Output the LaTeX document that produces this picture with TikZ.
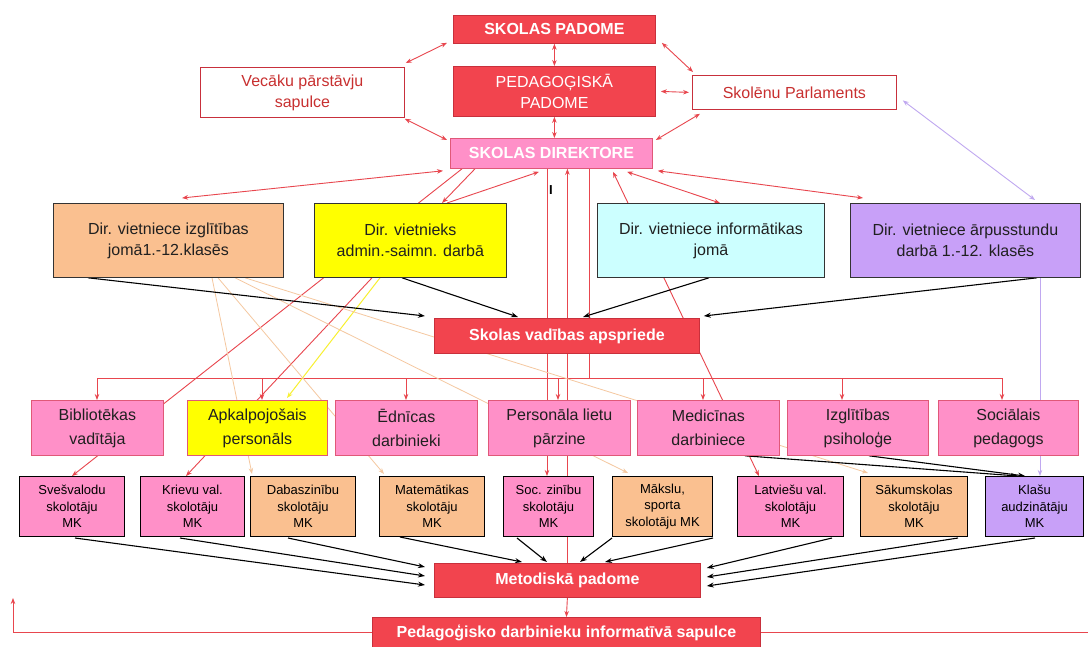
\documentclass[tikz,border=0pt]{standalone}
\usepackage{fontspec}
\setmainfont{Liberation Sans}
\usetikzlibrary{arrows.meta,calc}
\pgfdeclarelayer{bg}
\pgfsetlayers{bg,main}
\definecolor{rfill}{HTML}{F2444E}
\definecolor{rborder}{HTML}{C8303C}
\definecolor{pinkfill}{HTML}{FF90C8}
\definecolor{pinkborder}{HTML}{E05878}
\definecolor{peachfill}{HTML}{FAC090}
\definecolor{yelfill}{HTML}{FFFF00}
\definecolor{cyanfill}{HTML}{CCFFFF}
\definecolor{purpfill}{HTML}{C8A0F8}
\definecolor{rline}{HTML}{E8464E}
\definecolor{peachline}{HTML}{F5C8A0}
\definecolor{purpline}{HTML}{C0A8F0}
\definecolor{yelline}{HTML}{F8F030}
\definecolor{redtext}{HTML}{C83030}
\definecolor{darktext}{HTML}{202020}
\tikzset{
  base/.style={draw, inner sep=0pt, align=center, anchor=north west, line width=0.8pt},
  sz/.style 2 args={minimum width=#1pt, minimum height=#2pt},
  redbox/.style={base, fill=rfill, draw=rborder, text=white, font=\fontsize{16}{20}\selectfont\bfseries},
  redplainbox/.style={base, fill=rfill, draw=rborder, text=white, font=\fontsize{16}{21}\selectfont},
  whitebox/.style={base, fill=white, draw=rborder, text=redtext, font=\fontsize{16}{21}\selectfont},
  dirbox/.style={base, fill=pinkfill, draw=pinkborder, text=white, font=\fontsize{16}{20}\selectfont\bfseries},
  depbox/.style={base, draw=black!80, text=darktext, font=\fontsize{16}{21}\selectfont},
  rowbox/.style={base, fill=pinkfill, draw=pinkborder, text=darktext, font=\fontsize{16}{24}\selectfont},
  mkbox/.style={base, draw=black, line width=1pt, text=black, font=\fontsize{13}{16.5}\selectfont},
  rarr/.style={draw=rline, line width=0.9pt, -{Stealth[length=6pt,width=4.5pt,color=rline]}},
  rboth/.style={draw=rline, line width=0.9pt, {Stealth[length=6pt,width=4.5pt,color=rline]}-{Stealth[length=6pt,width=4.5pt,color=rline]}},
  rarrback/.style={draw=rline, line width=0.9pt, {Stealth[length=6pt,width=4.5pt,color=rline]}-},
  rplain/.style={draw=rline, line width=0.9pt},
  barr/.style={draw=black, line width=1.1pt, -{Stealth[length=7pt,width=5pt]}},
  parr/.style={draw=peachline, line width=0.8pt, -{Stealth[length=6pt,width=4.5pt,color=peachline]}},
  pboth/.style={draw=purpline, line width=0.9pt, {Stealth[length=6pt,width=4.5pt,color=purpline]}-{Stealth[length=6pt,width=4.5pt,color=purpline]}},
  purparr/.style={draw=purpline, line width=0.9pt, -{Stealth[length=6pt,width=4.5pt,color=purpline]}},
  yarr/.style={draw=yelline, line width=1pt, -{Stealth[length=6pt,width=4.5pt,color=yelline]}},
}
\begin{document}
\begin{tikzpicture}[x=1pt,y=-1pt]
\useasboundingbox (0,0) rectangle (1088,646);
% top
\node[redbox, sz={202}{28}] (sp) at (453,15) {SKOLAS PADOME};
\node[redplainbox, sz={202}{50}] (pp) at (453,66) {PEDAGOĢISKĀ\\PADOME};
\node[whitebox, sz={204}{50}] (vps) at (200,67) {Vecāku pārstāvju\\sapulce};
\node[whitebox, sz={204}{34}] (sk) at (692,75) {Skolēnu Parlaments};
\node[dirbox, sz={202}{30}] (dir) at (450,138) {SKOLAS DIREKTORE};
% deputies
\node[depbox, fill=peachfill, sz={230}{74}] (d1) at (53,203) {Dir. vietniece izglītības\\jomā1.-12.klasēs};
\node[depbox, fill=yelfill, sz={192}{74}] (d2) at (314,203) {Dir. vietnieks\\admin.-saimn. darbā};
\node[depbox, fill=cyanfill, sz={227}{74}] (d3) at (597,203) {Dir. vietniece informātikas\\jomā};
\node[depbox, fill=purpfill, sz={230}{74}] (d4) at (850,203) {Dir. vietniece ārpusstundu\\darbā 1.-12. klasēs};
\node[font=\fontsize{13}{13}\selectfont\bfseries] (cur) at (551,190) {I};
\node[redbox, sz={265}{35}] (sva) at (434,318) {Skolas vadības apspriede};
% row 2
\node[rowbox, sz={132}{55}] (r1) at (31,400) {Bibliotēkas\\vadītāja};
\node[rowbox, fill=yelfill, sz={140}{55}] (r2) at (187,400) {Apkalpojošais\\personāls};
\node[rowbox, sz={142}{55}] (r3) at (335,400) {Ēdnīcas\\darbinieki};
\node[rowbox, sz={142}{55}] (r4) at (488,400) {Personāla lietu\\pārzine};
\node[rowbox, sz={142}{55}] (r5) at (637,400) {Medicīnas\\darbiniece};
\node[rowbox, sz={141}{55}] (r6) at (787,400) {Izglītības\\psiholoģe};
\node[rowbox, sz={140}{55}] (r7) at (938,400) {Sociālais\\pedagogs};
% MK row
\node[mkbox, fill=pinkfill, sz={105}{60}] (m1) at (19,476) {Svešvalodu\\skolotāju\\MK};
\node[mkbox, fill=pinkfill, sz={104}{60}] (m2) at (140,476) {Krievu val.\\skolotāju\\MK};
\node[mkbox, fill=peachfill, sz={105}{60}] (m3) at (250,476) {Dabaszinību\\skolotāju\\MK};
\node[mkbox, fill=peachfill, sz={105}{60}] (m4) at (379,476) {Matemātikas\\skolotāju\\MK};
\node[mkbox, fill=pinkfill, sz={90}{60}] (m5) at (503,476) {Soc. zinību\\skolotāju\\MK};
\node[mkbox, fill=peachfill, sz={100}{60}] (m6) at (612,476) {Mākslu,\\sporta\\skolotāju MK};
\node[mkbox, fill=pinkfill, sz={106}{60}] (m7) at (737,476) {Latviešu val.\\skolotāju\\MK};
\node[mkbox, fill=peachfill, sz={107}{60}] (m8) at (860,476) {Sākumskolas\\skolotāju\\MK};
\node[mkbox, fill=purpfill, sz={98}{60}] (m9) at (985,476) {Klašu\\audzinātāju\\MK};
\node[redbox, sz={266}{34}] (mp) at (434,563) {Metodiskā padome};
\node[redbox, sz={388}{32}] (pds) at (372,617) {Pedagoģisko darbinieku informatīvā sapulce};
% coordinates
\coordinate (bus0) at (589,378);
\coordinate (busL) at (97,378);
\coordinate (busR) at (1002,378);
\foreach \i/\x in {1/97,2/262,3/406,4/558,5/703,6/842,7/1002}{\coordinate (b\i) at (\x,378);}
\coordinate (fbL) at (13,632);
\coordinate (fbLt) at (13,598);
\coordinate (fbR) at (1092,632);
\coordinate (v547) at ($(dir.south west)+(97,0)$);
\coordinate (vpur) at ($(d4.south west)+(190,0)$);
\begin{pgfonlayer}{bg}
\fill[white] (0,0) rectangle (1088,646);
% top arrows
\draw[rboth] ($(sp.south west)+(-6,-1)$) -- ($(vps.north east)+(1,-4)$);
\draw[rboth] (sp.south) -- (pp.north);
\draw[rboth] ($(sp.south east)+(6,-1)$) -- ($(sk.north west)+(1,-3)$);
\draw[rboth] ($(pp.east)+(5,0)$) -- ($(sk.west)+(-3,0)$);
\draw[rboth] (pp.south) -- (pp.south |- dir.north);
\draw[rboth] ($(vps.south east)+(0,1)$) -- ($(dir.north west)+(-3,2)$);
\draw[rboth] ($(sk.south west)+(8,4)$) -- ($(dir.north east)+(3,2)$);
\draw[pboth] ($(sk.east)+(6,8)$) -- ($(d4.north west)+(185,-3)$);
% director to deputies
\draw[rboth] ($(d1.north west)+(129,-5)$) -- ($(dir.south west)+(-7,2)$);
\draw[rarr] ($(dir.south west)+(25,0)$) -- ($(d2.north west)+(128,0)$);
\draw[rarr] ($(d2.north west)+(133,0)$) -- ($(dir.south west)+(89,3)$);
\draw[rboth] ($(d3.north west)+(123,0)$) -- ($(dir.south west)+(177,3)$);
\draw[rboth] ($(d4.north west)+(13,-5)$) -- ($(dir.south east)+(5,2)$);
% long red lines
\draw[rarr] ($(dir.south west)+(12,0)$) -- ($(m1.north west)+(53,0)$);
\draw[rarr] ($(d2.south west)+(58,0)$) -- ($(m2.north west)+(46,0)$);
\draw[rboth] ($(dir.south west)+(163,3)$) -- ($(m7.north west)+(22,0)$);
\draw[rarr] (v547) -- (v547 |- m5.north);
\draw[rarrback] (dir.south -| mp.north) -- (mp.north);
\draw[rarr] (mp.south) -- (pds.north);
\draw[rplain] (dir.south -| bus0) -- (bus0);
\draw[rplain] (busL) -- (busR);
\foreach \i in {1,...,7}{\draw[rarr] (b\i) -- (b\i |- r\i.north);}
% yellow
\draw[yarr] ($(d2.south west)+(66,0)$) -- ($(r2.north west)+(100,-2)$);
% peach lines
\draw[parr] ($(d1.south west)+(159,0)$) -- ($(m3.north west)+(2,-2)$);
\draw[parr] ($(d1.south west)+(165,0)$) -- ($(m4.north west)+(5,-2)$);
\draw[parr] ($(d1.south west)+(182,0)$) -- ($(m6.north west)+(16,-3)$);
\draw[parr] ($(d1.south west)+(192,0)$) -- ($(m8.north west)+(8,-3)$);
% black arrows to apspriede
\draw[barr] ($(d1.south west)+(35,0)$) -- ($(sva.north west)+(-9,-2)$);
\draw[barr] ($(d2.south west)+(88,0)$) -- ($(sva.north west)+(84,-1)$);
\draw[barr] ($(d3.south west)+(112,0)$) -- ($(sva.north west)+(149,-1)$);
\draw[barr] ($(d4.south west)+(187,0)$) -- ($(sva.north east)+(4,-2)$);
% to Klasu
\draw[barr] ($(r5.south west)+(108,0)$) -- ($(m9.north west)+(33,0)$);
\draw[barr] ($(r6.south west)+(82,0)$) -- ($(m9.north west)+(40,0)$);
\draw[purparr] (vpur) -- (vpur |- m9.north);
% MK to Metodiska
\draw[barr] ($(m1.south west)+(56,1)$) -- ($(mp.north west)+(-9,22)$);
\draw[barr] ($(m2.south west)+(40,1)$) -- ($(mp.north west)+(-9,13)$);
\draw[barr] ($(m3.south west)+(38,1)$) -- ($(mp.north west)+(-9,4)$);
\draw[barr] ($(m4.south west)+(21,0)$) -- ($(mp.north west)+(88,-1)$);
\draw[barr] ($(m5.south west)+(14,1)$) -- ($(mp.north west)+(113,-1)$);
\draw[barr] ($(m6.south west)+(0,1)$) -- ($(mp.north west)+(146,-1)$);
\draw[barr] ($(m6.south east)+(0,1)$) -- ($(mp.north west)+(171,-1)$);
\draw[barr] ($(m7.south west)+(95,1)$) -- ($(mp.north east)+(6,5)$);
\draw[barr] ($(m8.south west)+(98,1)$) -- ($(mp.north east)+(6,14)$);
\draw[barr] ($(m9.south west)+(50,1)$) -- ($(mp.north east)+(6,23)$);
% feedback
\draw[rarr] (pds.west |- fbL) -- (fbL) -- (fbLt);
\draw[rplain] (pds.east |- fbR) -- (fbR);
\end{pgfonlayer}
\end{tikzpicture}
\end{document}
